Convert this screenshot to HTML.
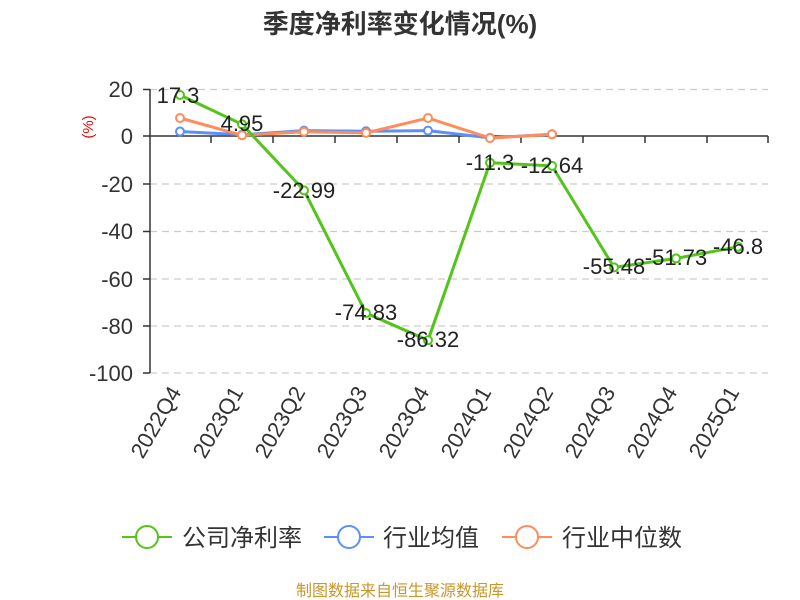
<!DOCTYPE html>
<html><head><meta charset="utf-8"><style>body{margin:0;background:#fff}svg{display:block}text{font-family:"Liberation Sans","Noto Sans CJK SC",sans-serif}</style></head><body>
<svg width="800" height="600" viewBox="0 0 800 600">
<text x="400" y="33" text-anchor="middle" font-size="26" font-weight="bold" fill="#333">季度净利率变化情况(%)</text>
<text x="93" y="127" font-size="15" fill="#e00" transform="rotate(-90 93 127)" text-anchor="middle">(%)</text>
<g stroke="#ccc" stroke-dasharray="7,5" stroke-width="1.3">
<line x1="150" x2="768" y1="89.5" y2="89.5"/><line x1="150" x2="768" y1="184" y2="184"/><line x1="150" x2="768" y1="231.5" y2="231.5"/><line x1="150" x2="768" y1="279" y2="279"/><line x1="150" x2="768" y1="326" y2="326"/><line x1="150" x2="768" y1="373" y2="373"/>
</g>
<g stroke="#333" stroke-width="1.5">
<line x1="150" y1="89" x2="150" y2="373"/><line x1="150" y1="136" x2="768" y2="136"/>
<line x1="143" x2="150" y1="89.5" y2="89.5"/><line x1="143" x2="150" y1="136" y2="136"/><line x1="143" x2="150" y1="184" y2="184"/><line x1="143" x2="150" y1="231.5" y2="231.5"/><line x1="143" x2="150" y1="279" y2="279"/><line x1="143" x2="150" y1="326" y2="326"/><line x1="143" x2="150" y1="373" y2="373"/>
<line x1="211" x2="211" y1="136" y2="143"/><line x1="273" x2="273" y1="136" y2="143"/><line x1="335" x2="335" y1="136" y2="143"/><line x1="397" x2="397" y1="136" y2="143"/><line x1="459" x2="459" y1="136" y2="143"/><line x1="521" x2="521" y1="136" y2="143"/><line x1="583" x2="583" y1="136" y2="143"/><line x1="645" x2="645" y1="136" y2="143"/><line x1="707" x2="707" y1="136" y2="143"/><line x1="768" x2="768" y1="136" y2="143"/>
</g>
<g font-size="22" fill="#333" text-anchor="end">
<text x="133" y="97">20</text><text x="133" y="144">0</text><text x="133" y="192">-20</text><text x="133" y="239">-40</text><text x="133" y="287">-60</text><text x="133" y="334">-80</text><text x="133" y="381">-100</text>
</g>
<g font-size="22" fill="#333" text-anchor="end">
<text transform="translate(182,392) rotate(-60)">2022Q4</text>
<text transform="translate(244,392) rotate(-60)">2023Q1</text>
<text transform="translate(306,392) rotate(-60)">2023Q2</text>
<text transform="translate(368,392) rotate(-60)">2023Q3</text>
<text transform="translate(430,392) rotate(-60)">2023Q4</text>
<text transform="translate(492,392) rotate(-60)">2024Q1</text>
<text transform="translate(554,392) rotate(-60)">2024Q2</text>
<text transform="translate(616,392) rotate(-60)">2024Q3</text>
<text transform="translate(678,392) rotate(-60)">2024Q4</text>
<text transform="translate(740,392) rotate(-60)">2025Q1</text>
</g>
<g fill="#fff" stroke-width="2">
<polyline fill="none" stroke="#5b8ff9" stroke-width="3" points="180,131.5 242,134.8 304,130.6 366,131.3 428,130.6 490,137.9 552,134.3"/>
<g stroke="#5b8ff9"><circle cx="180" cy="131.5" r="4"/><circle cx="242" cy="134.8" r="4"/><circle cx="304" cy="130.6" r="4"/><circle cx="366" cy="131.3" r="4"/><circle cx="428" cy="130.6" r="4"/><circle cx="490" cy="137.9" r="4"/><circle cx="552" cy="134.3" r="4"/></g>
<polyline fill="none" stroke="#ff8c5a" stroke-width="3" points="180,118 242,135.3 304,131.7 366,132.9 428,118 490,138.1 552,134.3"/>
<g stroke="#ff8c5a"><circle cx="180" cy="118" r="4"/><circle cx="242" cy="135.3" r="4"/><circle cx="304" cy="131.7" r="4"/><circle cx="366" cy="132.9" r="4"/><circle cx="428" cy="118" r="4"/><circle cx="490" cy="138.1" r="4"/><circle cx="552" cy="134.3" r="4"/></g>
<polyline fill="none" stroke="#52c41a" stroke-width="3" points="180,95 242,124.3 304,190.4 366,313.1 428,340.3 490,162.7 552,165.9 614,267.4 676,258.4 738,246.8"/>
<g stroke="#52c41a"><circle cx="180" cy="95" r="4"/><circle cx="242" cy="124.3" r="4"/><circle cx="304" cy="190.4" r="4"/><circle cx="366" cy="313.1" r="4"/><circle cx="428" cy="340.3" r="4"/><circle cx="490" cy="162.7" r="4"/><circle cx="552" cy="165.9" r="4"/><circle cx="614" cy="267.4" r="4"/><circle cx="676" cy="258.4" r="4"/><circle cx="738" cy="246.8" r="4"/></g>
</g>
<g font-size="22" fill="#222" text-anchor="middle">
<text x="178" y="103">17.3</text><text x="242" y="131">4.95</text><text x="304" y="198">-22.99</text><text x="366" y="320">-74.83</text><text x="428" y="347">-86.32</text><text x="490" y="170">-11.3</text><text x="552" y="173">-12.64</text><text x="614" y="274">-55.48</text><text x="676" y="265">-51.73</text><text x="738" y="254">-46.8</text>
</g>
<g stroke-width="2" fill="#fff">
<line x1="122" x2="172" y1="537" y2="537" stroke="#52c41a"/><circle cx="147" cy="537" r="11" stroke="#52c41a"/>
<line x1="324" x2="374" y1="537" y2="537" stroke="#5b8ff9"/><circle cx="349" cy="537" r="11" stroke="#5b8ff9"/>
<line x1="502" x2="552" y1="537" y2="537" stroke="#ff8c5a"/><circle cx="527" cy="537" r="11" stroke="#ff8c5a"/>
</g>
<g font-size="24" fill="#333">
<text x="182" y="546">公司净利率</text><text x="383" y="546">行业均值</text><text x="562" y="546">行业中位数</text>
</g>
<text x="400" y="596" font-size="16" fill="#c8962a" text-anchor="middle">制图数据来自恒生聚源数据库</text>
</svg>
</body></html>
